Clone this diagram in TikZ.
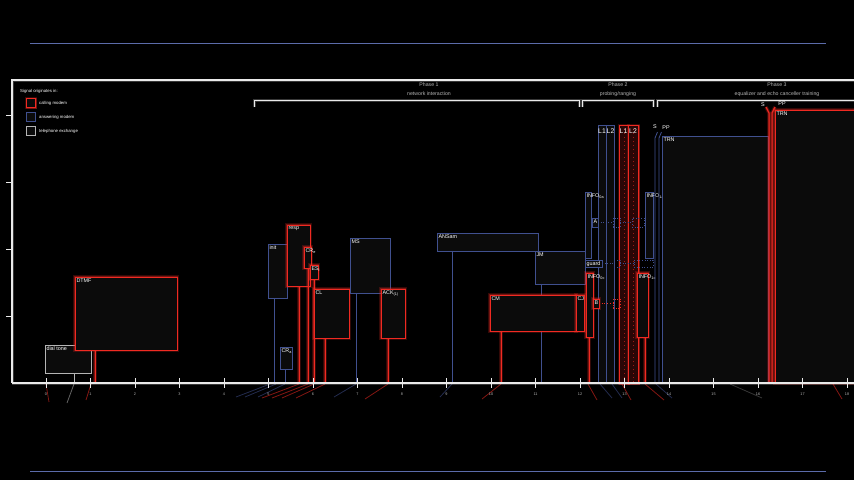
\documentclass[tikz,border=0pt]{standalone}
\usepackage{fontspec}
\setmainfont{Liberation Sans}
\usetikzlibrary{calc}
\definecolor{cred}{HTML}{F02A22}
\definecolor{cblue}{HTML}{40508F}
\definecolor{cgray}{HTML}{B4B4B4}
\definecolor{cwhite}{HTML}{EAEAEA}
\definecolor{boxfill}{HTML}{0B0B0B}
\definecolor{lfill}{HTML}{2A0606}
\definecolor{rulec}{HTML}{5C6CAA}
\newcommand{\sigbx}[7]{%
  \node[#2, anchor=north west, minimum width={#5-#3}, minimum height={#6-#4}] (#1) at (#3,#4) {};
  \node[lbl, anchor=north west] (#1-l) at (#1.north west) {#7};
}
\begin{document}
\begin{tikzpicture}[x=1pt,y=-1pt,
  glowr/.style={preaction={draw=cred,line width=3.6pt,opacity=.22},preaction={draw=cred,line width=2pt,opacity=.35}},
  gloww/.style={preaction={draw=white,line width=3pt,opacity=.22}},
  redbox/.style={draw=cred,line width=1pt,fill=boxfill,glowr,inner sep=0,outer sep=0},
  bluebox/.style={draw=cblue,line width=.8pt,fill=boxfill,inner sep=0,outer sep=0},
  graybox/.style={draw=cgray,line width=.8pt,fill=boxfill,inner sep=0,outer sep=0},
  ghostb/.style={draw=cblue,line width=.6pt,dotted,inner sep=0,outer sep=0},
  ghostr/.style={draw=cred,line width=.6pt,dotted,inner sep=0,outer sep=0},
  lbl/.style={text=white,font=\fontsize{5.4}{5.4}\selectfont,inner sep=1.3pt},
  redln/.style={draw=cred,line width=1pt,glowr},
  blueln/.style={draw=cblue,line width=.8pt},
  grayln/.style={draw=cgray,line width=.7pt},
  axisln/.style={draw=cwhite,line width=1.3pt,gloww},
  brk/.style={draw=cwhite,line width=.9pt,gloww},
  tick/.style={text=cgray,font=\fontsize{3.8}{4}\selectfont,inner sep=0},
  phase/.style={text=cgray,font=\fontsize{5.2}{5.5}\selectfont,inner sep=0},
  small/.style={text=white,font=\fontsize{4.3}{4.5}\selectfont,inner sep=0,anchor=west},
  big/.style={text=white,font=\fontsize{6.8}{7}\selectfont,inner sep=0},
  refl/.style={line width=.8pt,opacity=.55}
]
\useasboundingbox (0,0) rectangle (854,480);
\fill[black] (0,0) rectangle (854,480);
\clip (0,0) rectangle (854,480);

% outer rules
\draw[rulec,line width=.8pt] (30,43) -- (826,43);
\draw[rulec,line width=.8pt] (30,471) -- (826,471);

% frame
\draw[axisln] (12,383) -- (12,80) -- (860,80);
\foreach \yy in {115,182,249,316} \draw[cwhite,line width=.7pt] (6,\yy) -- (12,\yy);

% legend
\node[small] (leg) at (20,91) {Signal originates in:};
\node[draw=cred,line width=1pt,glowr,fill=boxfill,minimum size=9pt,inner sep=0] (lr) at (31,103) {};
\node[small] (lrt) at (39,103) {calling modem};
\node[draw=cblue,line width=.8pt,fill=boxfill,minimum size=9pt,inner sep=0] (lb) at (31,117) {};
\node[small] (lbt) at (39,117) {answering modem};
\node[draw=cgray,line width=.8pt,fill=boxfill,minimum size=9pt,inner sep=0] (lg) at (31,131) {};
\node[small] (lgt) at (39,131) {telephone exchange};

% phases
\node[phase] (p1) at (429,85) {Phase 1};
\node[phase] (p1b) at (429,94) {network interaction};
\node[phase] (p2) at (618,85) {Phase 2};
\node[phase] (p2b) at (618,94) {probing/ranging};
\node[phase] (p3) at (777,85) {Phase 3};
\node[phase] (p3b) at (777,94) {equalizer and echo canceller training};
\draw[brk] (254,107) -- (254,100) -- (579,100) -- (579,107);
\draw[brk] (582,107) -- (582,100) -- (653,100) -- (653,107);
\draw[brk] (657,107) -- (657,100) -- (860,100);

% reflections below axis
\draw[refl,cred] (46,384) -- (49,402);
\draw[refl,cgray] (74,384) -- (67,403);
\draw[refl,cred] (91,384) -- (86,400);
\foreach \a/\b in {270/236,276/245,285/258} \draw[refl,cblue] (\a,384) -- (\b,397);
\foreach \a/\b in {299/262,308/272,314/282,325/296} \draw[refl,cred] (\a,384) -- (\b,398);
\draw[refl,cblue] (356,384) -- (334,397);
\draw[refl,cred] (388,384) -- (365,399);
\draw[refl,cblue] (452,384) -- (440,397);
\draw[refl,cred] (501,384) -- (482,399);
\foreach \a/\b in {588/597,622/631,645/664} \draw[refl,cred] (\a,384) -- (\b,400);
\foreach \a/\b in {600/612,612/622,656/672} \draw[refl,cblue] (\a,384) -- (\b,398);
\draw[refl,cgray,opacity=.3] (730,384) -- (762,398);
\draw[refl,cred] (833,384) -- (842,399);

% ---------- telephone exchange / DTMF
\sigbx{dial}{graybox}{45}{345}{91}{373}{dial tone}
\draw[grayln] (dial.south -| 74,0) -- (74,383);
\sigbx{dtmf}{redbox}{75}{277}{177}{350}{DTMF}
\draw[redln] (dtmf.south -| 95,0) -- (95,383);

% ---------- Phase 1
\sigbx{init}{bluebox}{268}{244}{287}{298}{init}
\draw[blueln] (init.south -| 274,0) -- (274,383);
\sigbx{resp}{redbox}{287}{225}{310}{286}{resp}
\draw[redln] (resp.south -| 299,0) -- (299,383);
\sigbx{cre}{redbox}{304}{247}{311}{268}{CR\textsubscript{e}}
\draw[redln] (cre.south -| 308,0) -- (308,383);
\sigbx{es}{redbox}{310}{265}{318}{279}{ES\textsubscript{i}}
\draw[redln] (es.south -| 314,0) -- (314,383);
\sigbx{cl}{redbox}{314}{289}{349}{338}{CL}
\draw[redln] (cl.south -| 325,0) -- (325,383);
\sigbx{cra}{bluebox}{280}{347}{292}{369}{CR\textsubscript{a}}
\draw[blueln] (cra.south -| 285,0) -- (285,383);
\sigbx{ms}{bluebox}{350}{238}{390}{293}{MS}
\draw[blueln] (ms.south -| 356,0) -- (356,383);
\sigbx{ack}{redbox}{381}{289}{405}{338}{ACK\textsubscript{(1)}}
\draw[redln] (ack.south -| 388,0) -- (388,383);
\sigbx{ansam}{bluebox}{437}{233}{538}{251}{ANSam}
\draw[blueln] (ansam.south -| 452,0) -- (452,383);
\sigbx{jm}{bluebox}{535}{251}{585}{284}{JM}
\draw[blueln] (jm.south -| 541,0) -- (541,383);
\sigbx{cm}{redbox}{490}{295}{576}{331}{CM}
\draw[redln] (cm.south -| 501,0) -- (501,383);
\sigbx{cj}{redbox}{576}{295}{584}{331}{CJ}

% ---------- Phase 2
\node[draw=cblue,line width=.8pt,fill=boxfill,inner sep=0,anchor=north west,minimum width=8pt,minimum height=258pt] (l1a) at (598,125) {};
\node[draw=cblue,line width=.8pt,fill=boxfill,inner sep=0,anchor=north west,minimum width=8pt,minimum height=258pt] (l2a) at (606,125) {};
\node[draw=cred,line width=1pt,glowr,fill=lfill,inner sep=0,anchor=north west,minimum width=9pt,minimum height=258pt] (l1c) at (619,125) {};
\node[draw=cred,line width=1pt,glowr,fill=lfill,inner sep=0,anchor=north west,minimum width=10pt,minimum height=258pt] (l2c) at (628,125) {};
\draw[cred,line width=.5pt,dash pattern=on 1pt off 3pt,opacity=.6] (l1c.north) -- (l1c.south);
\draw[cred,line width=.5pt,dash pattern=on 1pt off 3pt,opacity=.6] (l2c.north) -- (l2c.south);
\node[big] (l1at) at (602,131) {L1};
\node[big] (l2at) at (610.5,131) {L2};
\node[big] (l1ct) at (623.5,131) {L1};
\node[big] (l2ct) at (633,131) {L2};

\sigbx{info0a}{bluebox}{585}{192}{591}{258}{INFO\textsubscript{0a}}
\sigbx{info1a}{bluebox}{645}{192}{653}{258}{INFO\textsubscript{1a}}
\sigbx{sa}{bluebox}{592}{218}{598}{227}{A}
\node[ghostb,anchor=north west,minimum width=7pt,minimum height=9pt] (sa2) at (613,218) {};
\node[ghostb,anchor=north west,minimum width=12pt,minimum height=9pt] (sa3) at (632,218) {};
\draw[cblue,dotted,line width=.6pt] (sa.east) -- (sa2.west);
\draw[cblue,dotted,line width=.6pt] (sa2.east) -- (sa3.west);
\sigbx{guard}{bluebox}{585}{260}{602}{267}{guard}
\node[ghostb,anchor=north west,minimum width=6pt,minimum height=7pt] (g2) at (614,260) {};
\node[ghostb,anchor=north west,minimum width=19pt,minimum height=7pt] (g3) at (634,260) {};
\draw[cblue,dotted,line width=.6pt] (guard.east) -- (g2.west);
\draw[cblue,dotted,line width=.6pt] (g2.east) -- (g3.west);

\sigbx{info0c}{redbox}{586}{273}{593}{337}{INFO\textsubscript{0c}}
\draw[redln] (info0c.south -| 589,0) -- (589,383);
\sigbx{info1c}{redbox}{637}{273}{648}{337}{INFO\textsubscript{1c}}
\draw[redln] (info1c.south -| 645,0) -- (645,383);
\sigbx{sb}{redbox}{593}{299}{599}{308}{B}
\node[ghostr,anchor=north west,minimum width=7pt,minimum height=9pt] (sb2) at (613,299) {};
\draw[cred,dotted,line width=.7pt] (sb.east) -- (sb2.west);

% ---------- Phase 3
\node[lbl,text=white] (sA) at (655,127) {S};
\node[lbl,text=white] (ppA) at (666,128) {PP};
\draw[blueln] (657.5,132) -- (655,138) -- (655,383);
\draw[blueln] (661.5,132) -- (659,138) -- (659,383);
\sigbx{trna}{bluebox}{662}{136}{768}{383}{TRN}
\node[lbl,text=white] (sC) at (763,105) {S};
\node[lbl,text=white] (ppC) at (782,104) {PP};
\draw[redln] (766,107) -- (769,113) -- (769,383);
\draw[redln] (775,107) -- (772,113) -- (772,383);
\sigbx{trnc}{redbox}{775}{110}{870}{383}{TRN}

% axis on top
\draw[axisln] (12,383) -- (860,383);
\foreach \i in {0,...,18} {
  \pgfmathsetmacro\xx{46+44.5*\i}
  \draw[cwhite,line width=.8pt] (\xx,378) -- (\xx,388);
  \node[tick] (t\i) at (\xx,394) {\i};
}
\end{tikzpicture}
\end{document}
